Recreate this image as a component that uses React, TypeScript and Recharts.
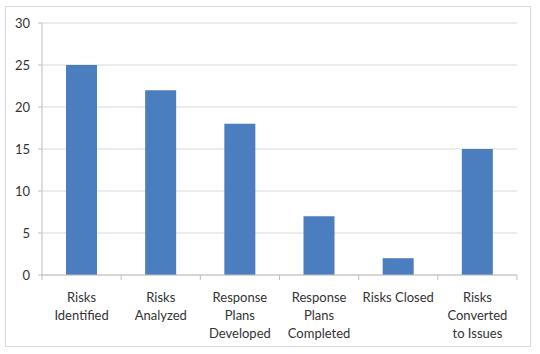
import { BarChart, Bar, XAxis, YAxis, CartesianGrid } from 'recharts';

// categories and values
const categories = [
  'Risks\nIdentified',
  'Risks\nAnalyzed',
  'Response\nPlans\nDeveloped',
  'Response\nPlans\nCompleted',
  'Risks Closed',
  'Risks\nConverted\nto Issues',
];
const counts = [25, 22, 18, 7, 2, 15];
const yTicks = [0, 5, 10, 15, 20, 25, 30];

const W = 540;
const H = 354;
const MARGIN = { top: 23, right: 23, left: 12, bottom: 9 };
const Y_WIDTH = 30;
const FONT = 'Lato, "Open Sans", sans-serif';
const AXIS_GRAY = '#bfbfbf';

const data = categories.map((name, i) => ({ name, value: counts[i] }));
const band = (W - MARGIN.left - MARGIN.right - Y_WIDTH) / categories.length;

// multi-line category label plus Excel-style boundary tick marks
const CategoryTick = ({ x, y, payload, index }: any) => {
  const lines = String(payload.value).split('\n');
  return (
    <g>
      <line x1={x - band / 2} x2={x - band / 2} y1={y} y2={y + 5} stroke={AXIS_GRAY} />
      {index === categories.length - 1 && (
        <line x1={x + band / 2} x2={x + band / 2} y1={y} y2={y + 5} stroke={AXIS_GRAY} />
      )}
      <text x={x} y={y} textAnchor="middle" fontSize={13} fill="#333" fontFamily={FONT}>
        {lines.map((l, i) => (
          <tspan key={i} x={x} dy={i === 0 ? 27 : 18}>
            {l}
          </tspan>
        ))}
      </text>
    </g>
  );
};

export default function App() {
  return (
    <div style={{ position: 'absolute', left: 0, top: 0, width: W, height: H, background: '#fff' }}>
      <div
        style={{
          position: 'absolute',
          left: 5,
          top: 6,
          width: 526,
          height: 341,
          border: '1px solid #d9d9d9',
          boxSizing: 'border-box',
        }}
      />
      <div style={{ position: 'absolute', left: 0, top: 0 }}>
        <BarChart width={W} height={H} data={data} margin={MARGIN} barCategoryGap="0%">
          <CartesianGrid vertical={false} stroke="#d9d9d9" />
          <XAxis
            dataKey="name"
            interval={0}
            height={70}
            tickLine={false}
            tickSize={0}
            tickMargin={0}
            axisLine={{ stroke: AXIS_GRAY }}
            tick={<CategoryTick />}
          />
          <YAxis
            width={Y_WIDTH}
            domain={[0, 30]}
            ticks={yTicks}
            tickSize={4}
            tickMargin={8}
            tickLine={{ stroke: AXIS_GRAY }}
            axisLine={{ stroke: AXIS_GRAY }}
            tick={{ fontSize: 13, fill: '#333', fontFamily: FONT }}
          />
          <Bar dataKey="value" fill="#4A7EBF" barSize={31} isAnimationActive={false} />
        </BarChart>
      </div>
    </div>
  );
}
